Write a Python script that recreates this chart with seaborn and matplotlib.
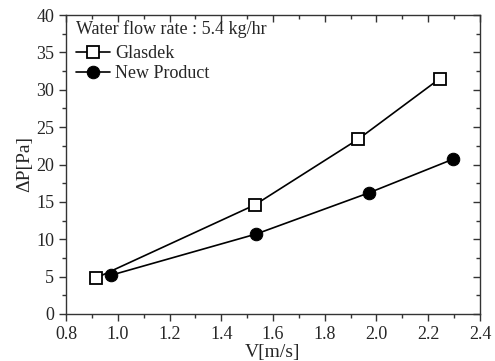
import matplotlib
matplotlib.use("Agg")
import matplotlib.pyplot as plt
import seaborn as sns
import pandas as pd
from matplotlib.ticker import MultipleLocator

glasdek_v = [0.915, 1.53, 1.93, 2.245]
glasdek_dp = [4.8, 14.6, 23.4, 31.5]
new_v = [0.975, 1.535, 1.97, 2.295]
new_dp = [5.2, 10.7, 16.2, 20.7]
series_names = ["Glasdek", "New Product"]

sns.set_style("ticks")
plt.rcParams['font.family'] = ['Liberation Serif', 'DejaVu Serif']

df = pd.concat([
    pd.DataFrame({"V": glasdek_v, "dP": glasdek_dp, "s": series_names[0]}),
    pd.DataFrame({"V": new_v, "dP": new_dp, "s": series_names[1]}),
])

fig = plt.figure(figsize=(4.95, 3.61), dpi=100)
ax = fig.add_axes([66/495, 1-314/361, (480-66)/495, (314-15)/361])

sns.lineplot(data=df, x="V", y="dP", hue="s", style="s",
             palette={series_names[0]: "black", series_names[1]: "black"},
             markers={series_names[0]: "s", series_names[1]: "o"},
             dashes=False, ax=ax, linewidth=1.2, markersize=9,
             legend=False)
lines = ax.get_lines()
lines[0].set_markerfacecolor("white")
lines[0].set_markeredgecolor("black")
lines[0].set_markeredgewidth(1.3)
lines[0].set_markersize(8)
lines[1].set_markerfacecolor("black")
lines[1].set_markeredgecolor("black")

ax.set_xlim(0.8, 2.4)
ax.set_ylim(0, 40)
ax.xaxis.set_major_locator(MultipleLocator(0.2))
ax.xaxis.set_minor_locator(MultipleLocator(0.1))
ax.yaxis.set_major_locator(MultipleLocator(5))
ax.yaxis.set_minor_locator(MultipleLocator(2.5))
ax.set_xticklabels([f"{v:.1f}" for v in ax.get_xticks()])
for s in ax.spines.values():
    s.set_visible(True)
    s.set_linewidth(1.0)
    s.set_color("#333333")
ax.tick_params(which="both", direction="out", top=True, right=True, labelsize=13, width=1, color="#333333")
ax.tick_params(which="major", length=5)
ax.tick_params(which="minor", length=3)
ax.set_xlabel("V[m/s]", fontsize=14, labelpad=1)
ax.set_ylabel("ΔP[Pa]", fontsize=14, labelpad=2)
# top and right ticks point inward
for tick in ax.xaxis.get_major_ticks() + ax.xaxis.get_minor_ticks():
    tick.tick2line.set_marker(3)
for tick in ax.yaxis.get_major_ticks() + ax.yaxis.get_minor_ticks():
    tick.tick2line.set_marker(0)

leg = ax.legend(lines, series_names, loc="upper left", title="Water flow rate : 5.4 kg/hr",
                frameon=False, fontsize=13, title_fontsize=13, handlelength=1.9,
                handletextpad=0.3, borderpad=0.1, borderaxespad=0.2,
                bbox_to_anchor=(0.01, 1.0), labelspacing=0.15)
leg._legend_box.align = "left"
leg._legend_box.sep = 5

fig.savefig("out.png", dpi=100)
